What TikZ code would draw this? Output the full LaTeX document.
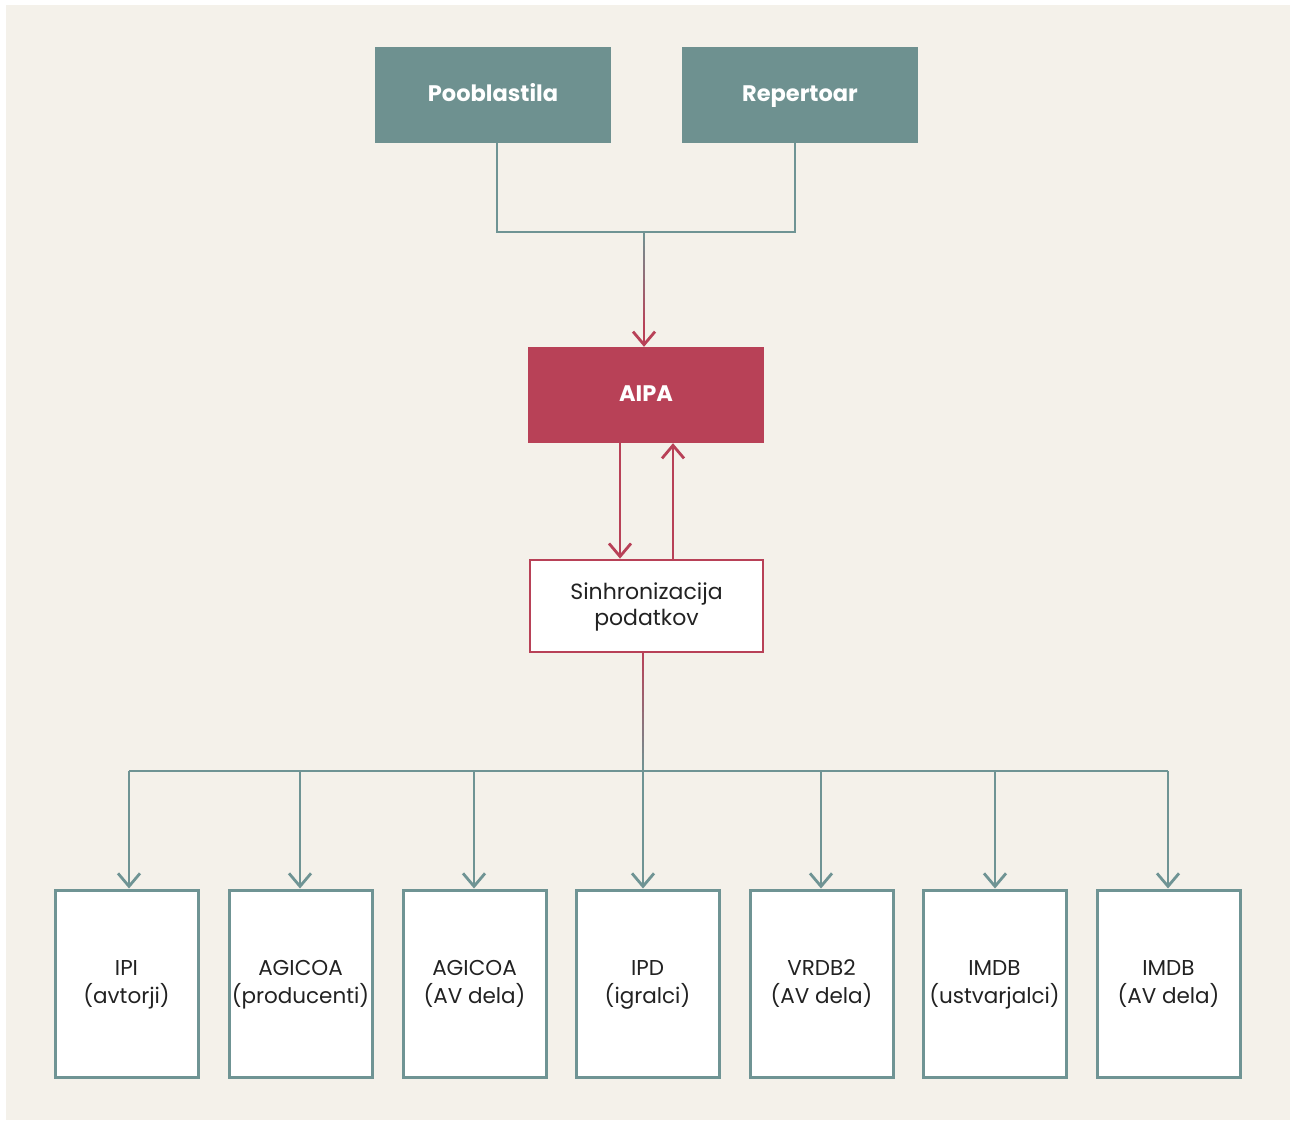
\documentclass[tikz,border=0pt]{standalone}
\usepackage{fontspec}
\setmainfont{Poppins}
\usetikzlibrary{arrows.meta,calc}
\definecolor{bgc}{HTML}{F4F1EA}
\definecolor{tealc}{HTML}{6E9190}
\definecolor{tealln}{HTML}{6F9494}
\definecolor{redc}{HTML}{B84157}
\definecolor{txtc}{HTML}{222222}
\newcommand{\ls}{\rule[-7pt]{0pt}{26pt}}
\tikzset{
  topbox/.style={fill=tealc, draw=none, minimum width=236pt, minimum height=96pt, inner sep=0pt, text=white, text height=17pt, text depth=5pt, font=\fontsize{22.5}{26}\selectfont\bfseries},
  aipabox/.style={fill=redc, draw=none, minimum width=236pt, minimum height=96pt, inner sep=0pt, text=white, text height=17pt, text depth=5pt, font=\fontsize{22.5}{26}\selectfont\bfseries},
  syncbox/.style={fill=white, draw=redc, line width=2.8pt, minimum width=233pt, minimum height=92pt, inner sep=0pt, text=txtc, align=center, font=\fontsize{22}{26}\selectfont},
  dbbox/.style={fill=white, draw=tealln, line width=3pt, minimum width=143pt, minimum height=187pt, inner sep=0pt, text=txtc, align=center, font=\fontsize{21.5}{26}\selectfont},
  tline/.style={draw=tealln, line width=2.8pt},
  rline/.style={draw=redc, line width=2.8pt},
  tip/.style={-{Straight Barb[length=13pt,width=22pt,line width=2.8pt]}},
}
\begin{document}
\begin{tikzpicture}[x=1pt,y=-1pt]
\useasboundingbox (0,0) rectangle (1290,1120);
\fill[white] (0,0) rectangle (1290,1120);
\fill[bgc] (6,5) rectangle (1290,1120);

\node[topbox] (poob) at (493,95) {Pooblastila};
\node[topbox] (rep) at (800,95) {Repertoar};
\node[aipabox] (aipa) at (646,395) {AIPA};
\node[syncbox] (sync) at (646.5,606) {\ls Sinhronizacija\\\ls podatkov};

\node[dbbox] (d1) at (126.5,983.5) {\ls IPI\\\ls (avtorji)};
\node[dbbox] (d2) at (300.5,983.5) {\ls AGICOA\\\ls (producenti)};
\node[dbbox] (d3) at (474.5,983.5) {\ls AGICOA\\\ls (AV dela)};
\node[dbbox] (d4) at (647.5,983.5) {\ls IPD\\\ls (igralci)};
\node[dbbox] (d5) at (821.5,983.5) {\ls VRDB2\\\ls (AV dela)};
\node[dbbox] (d6) at (994.5,983.5) {\ls IMDB\\\ls (ustvarjalci)};
\node[dbbox] (d7) at (1168.5,983.5) {\ls IMDB\\\ls (AV dela)};

% top junction
\coordinate (junc) at (644,232);
\coordinate (aend) at ($(aipa.north)+(-2,-20)$);
\draw[tline] ([xshift=4pt]poob.south) |- (junc);
\draw[tline] ([xshift=-5pt]rep.south) |- (junc);
\foreach \k in {0,...,19}{
  \pgfmathsetmacro{\pa}{\k/20}
  \pgfmathsetmacro{\pb}{(\k+1.3)/20}
  \pgfmathsetmacro{\mix}{100*(\k+0.5)/20}
  \draw[line width=2.8pt, draw=redc!\mix!tealln] ($(junc)!\pa!(aend)$) -- ($(junc)!\pb!(aend)$);
}
\draw[rline,tip] ($(aipa.north)+(-2,-22)$) -- ([xshift=-2pt]aipa.north);

% AIPA <-> sync
\draw[rline,tip] ([xshift=-26pt]aipa.south) -- ([xshift=-26.5pt]sync.north);
\draw[rline,tip] ([xshift=26.5pt]sync.north) -- ([xshift=27pt]aipa.south);

% bus
\coordinate (bus) at (643,771);
\coordinate (sstart) at ([xshift=-3.5pt]sync.south);
\foreach \k in {0,...,19}{
  \pgfmathsetmacro{\pa}{\k/20}
  \pgfmathsetmacro{\pb}{(\k+1.3)/20}
  \pgfmathsetmacro{\mix}{100*(\k+0.5)/20}
  \draw[line width=2.8pt, draw=tealln!\mix!redc] ($(sstart)!\pa!(bus)$) -- ($(sstart)!{min(\pb,1)}!(bus)$);
}
\coordinate (b1) at (129,771);
\coordinate (b7) at (1168,771);
\draw[tline] (b1) -- (b7);
\foreach \i/\x in {1/129,2/300,3/474,4/643,5/821,6/995,7/1168}{
  \coordinate (c\i) at (\x,771);
  \draw[tline,tip] (c\i) -- (c\i |- d\i.north);
}
\end{tikzpicture}
\end{document}
